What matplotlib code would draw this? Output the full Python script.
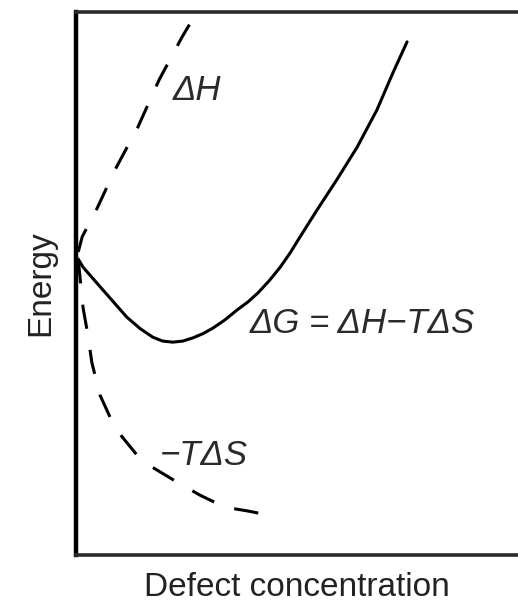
import matplotlib
matplotlib.use("Agg")
import matplotlib.pyplot as plt

plt.rcParams['font.family'] = ['Liberation Sans', 'DejaVu Sans']

# enthalpy term, rises with defect concentration
dh_x = [0.005, 0.014, 0.048, 0.088, 0.140, 0.188, 0.240, 0.267]
dh_y = [5.58, 5.86, 6.39, 7.09, 7.88, 8.75, 9.54, 9.91]

# entropy term -T*dS, falls away quickly
ts_x = [0.005, 0.016, 0.025, 0.036, 0.054, 0.077, 0.095, 0.138, 0.172,
        0.229, 0.281, 0.337, 0.389, 0.457]
ts_y = [5.45, 4.55, 4.14, 3.54, 2.95, 2.54, 2.27, 1.84, 1.62,
        1.34, 1.10, 0.88, 0.81, 0.70]

# free energy, minimum at the equilibrium concentration
dg_x = [0.005, 0.016, 0.061, 0.115, 0.145, 0.174, 0.196, 0.219, 0.242,
        0.265, 0.288, 0.310, 0.337, 0.364, 0.389, 0.412, 0.437, 0.462,
        0.485, 0.507, 0.545, 0.590, 0.636, 0.681, 0.717, 0.749]
dg_y = [5.45, 5.30, 4.88, 4.38, 4.17, 4.01, 3.94, 3.92, 3.94,
        4.00, 4.08, 4.18, 4.33, 4.51, 4.66, 4.83, 5.05, 5.30,
        5.57, 5.86, 6.35, 6.91, 7.51, 8.20, 8.88, 9.45]

fig = plt.figure(figsize=(5.18, 6.04), dpi=100)
ax = fig.add_axes([76 / 518, 49 / 604, 1 - 76 / 518, 543 / 604])

dash = (0, (8, 7))
ax.plot(dh_x, dh_y, color='black', lw=2.2, linestyle=dash)
ax.plot(ts_x, ts_y, color='black', lw=2.2, linestyle=dash)
ax.plot(dg_x, dg_y, color='black', lw=2.2, solid_capstyle='round',
        solid_joinstyle='round')

lbl = dict(fontsize=25, color='#2a2a2a', style='italic', ha='left', va='baseline')
ax.text(0.219, 8.38, 'ΔH', **lbl)
ax.text(0.394, 4.09, 'ΔG = ΔH−TΔS', **lbl)
ax.text(0.19, 1.66, '−TΔS', **lbl)

ax.set_xlim(0, 1)
ax.set_ylim(0, 10)
ax.set_xticks([])
ax.set_yticks([])
ax.spines['right'].set_visible(False)
ax.spines['left'].set_linewidth(3.2)
ax.spines['left'].set_color('black')
for s in ('top', 'bottom'):
    ax.spines[s].set_linewidth(2.6)
    ax.spines[s].set_color('#2a2a2a')

ax.set_xlabel('Defect concentration', fontsize=24, color='#222222', labelpad=12)
ax.set_ylabel('Energy', fontsize=24, color='#222222', labelpad=14)

fig.savefig('out.png', dpi=100)
